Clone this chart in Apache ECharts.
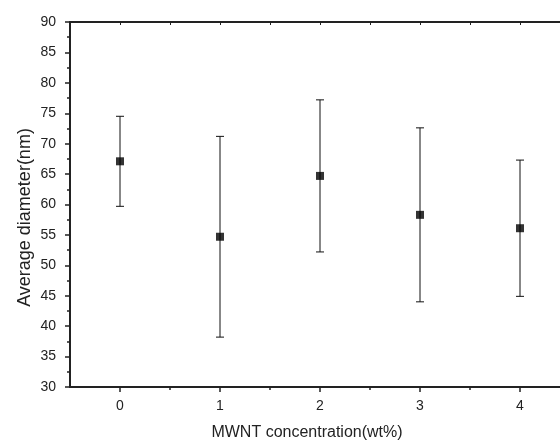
<!DOCTYPE html>
<html lang="en">
<head>
    <meta charset="UTF-8">
    <script src="https://cdn.jsdelivr.net/npm/echarts@6/dist/echarts.min.js"></script>
    <style>
        html, body { margin: 0; padding: 0; background: #ffffff; }
    </style>
</head>
<body>
    <div id="main" style="width: 560px;height:444px;"></div>
    <script type="text/javascript">
        // MWNT loading (wt%) and measured fibre diameter (nm)
        const concentration = [0, 1, 2, 3, 4];
        const meanDiameter = [67.1, 54.7, 64.7, 58.3, 56.1];
        const errLow = [59.7, 38.2, 52.2, 44.0, 44.9];
        const errHigh = [74.5, 71.2, 77.2, 72.6, 67.3];
        const majorTicks = [0, 1, 2, 3, 4];
        const minorTicks = [0.5, 1.5, 2.5, 3.5];
        const topTicks = [0, 0.5, 1, 1.5, 2, 2.5, 3, 3.5, 4];

        const axisColor = '#222';
        const font = 'Arial, "Liberation Sans", sans-serif';

        var myChart = echarts.init(document.getElementById('main'));

        const points = concentration.map((c, i) => [c, meanDiameter[i]]);
        const bars = concentration.map((c, i) => [c, errLow[i], errHigh[i]]);

        const xBase = {
            type: 'value', min: -0.5, max: 4.4,
            splitLine: { show: false },
            axisLine: { show: false }
        };

        myChart.setOption({
            animation: false,
            grid: { left: 70, right: 0, top: 22, bottom: 57, outerBoundsMode: 'none' },
            xAxis: [
                Object.assign({}, xBase, {
                    position: 'bottom',
                    name: 'MWNT concentration(wt%)',
                    nameLocation: 'middle',
                    nameGap: 38,
                    nameMoveOverlap: false,
                    nameTextStyle: { fontFamily: font, fontSize: 16, color: axisColor, padding: [0, 16, 0, 0] },
                    axisLine: { show: true, onZero: false, lineStyle: { color: axisColor, width: 2 } },
                    axisTick: { show: true, inside: false, length: 5, customValues: majorTicks,
                        lineStyle: { color: axisColor, width: 1.5 } },
                    axisLabel: { customValues: majorTicks, margin: 12,
                        fontFamily: font, fontSize: 14, color: axisColor }
                }),
                Object.assign({}, xBase, {
                    position: 'bottom',
                    axisTick: { show: true, inside: false, length: 3, customValues: minorTicks,
                        lineStyle: { color: axisColor, width: 1.5 } },
                    axisLabel: { show: false }
                }),
                Object.assign({}, xBase, {
                    position: 'top',
                    axisLine: { show: true, onZero: false, lineStyle: { color: axisColor, width: 2 } },
                    axisTick: { show: true, inside: true, length: 3, customValues: topTicks,
                        lineStyle: { color: axisColor, width: 1 } },
                    axisLabel: { show: false }
                })
            ],
            yAxis: {
                type: 'value', min: 30, max: 90, interval: 5,
                name: 'Average diameter(nm)',
                nameLocation: 'middle',
                nameGap: 36,
                nameMoveOverlap: false,
                nameTextStyle: { fontFamily: font, fontSize: 18, color: axisColor, padding: [0, 26, 0, 0] },
                splitLine: { show: false },
                axisLine: { show: true, onZero: false, lineStyle: { color: axisColor, width: 2 } },
                axisTick: { show: true, inside: false, length: 5, lineStyle: { color: axisColor, width: 1.5 } },
                minorTick: { show: true, splitNumber: 2, length: 3, lineStyle: { color: axisColor, width: 1.5 } },
                axisLabel: { margin: 14, fontFamily: font, fontSize: 14, color: axisColor }
            },
            series: [
                {
                    type: 'custom',
                    data: bars,
                    z: 1,
                    renderItem: function (params, api) {
                        const x = api.value(0);
                        const lo = api.coord([x, api.value(1)]);
                        const hi = api.coord([x, api.value(2)]);
                        const half = 4;
                        const style = { stroke: '#111', lineWidth: 1 };
                        return {
                            type: 'group',
                            children: [
                                { type: 'line', shape: { x1: lo[0], y1: lo[1], x2: hi[0], y2: hi[1] }, style: style },
                                { type: 'line', shape: { x1: hi[0] - half, y1: hi[1], x2: hi[0] + half, y2: hi[1] }, style: style },
                                { type: 'line', shape: { x1: lo[0] - half, y1: lo[1], x2: lo[0] + half, y2: lo[1] }, style: style }
                            ]
                        };
                    }
                },
                {
                    type: 'scatter',
                    data: points,
                    symbol: 'rect',
                    symbolSize: 8,
                    z: 3,
                    itemStyle: { color: '#000' }
                }
            ]
        });
    </script>
</body>
</html>
